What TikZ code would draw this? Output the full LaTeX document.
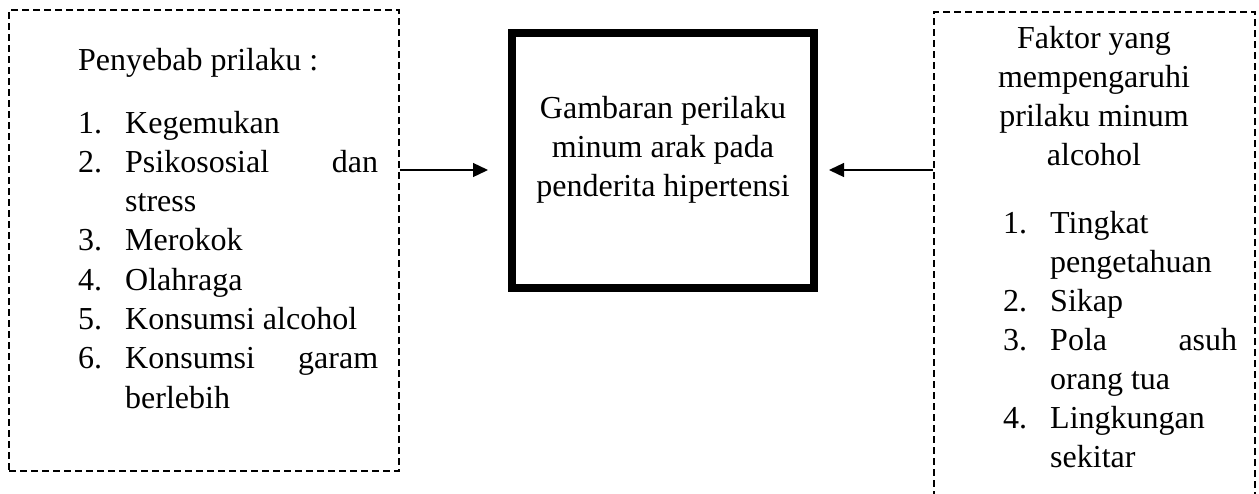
\documentclass[tikz,border=0pt]{standalone}
\usepackage{fontspec}
\setmainfont{Liberation Serif}
\usetikzlibrary{arrows.meta}
\tikzset{
  dashbox/.style={draw, line width=2pt, dash pattern=on 7pt off 4pt, inner sep=0pt},
  mainbox/.style={draw, line width=8pt, inner sep=0pt},
  txt/.style={anchor=base west, inner sep=0pt, font=\fontsize{32}{39}\selectfont},
  ctxt/.style={anchor=base, inner sep=0pt, font=\fontsize{32}{39}\selectfont},
  arr/.style={line width=1.3pt, -{Triangle[length=15pt,width=14pt]}}
}
\begin{document}
\begin{tikzpicture}[x=1pt,y=-1pt]
\useasboundingbox (0,0) rectangle (1259,493);
% boxes
\node[dashbox, minimum width=390pt, minimum height=461pt] (left) at (204,240.5) {};
\node[mainbox, minimum width=302pt, minimum height=255pt] (center) at (663,160.5) {};
\begin{scope}
\clip (0,0) rectangle (1259,493);
\node[dashbox, minimum width=321pt, minimum height=540pt] (right) at (1094.5,282) {};
\end{scope}
% left text
\node[txt] (lh) at (78,70) {Penyebab prilaku :};
\node[txt] (ln1) at (78,133) {1.};
\node[txt] (lt1) at (125,133) {Kegemukan};
\node[txt] (ln2) at (78,172.3) {2.};
\node[txt] (lt2) at (125,172.3) {\makebox[253pt][s]{Psikososial\hfill dan}};
\node[txt] (lt2b) at (125,211.6) {stress};
\node[txt] (ln3) at (78,250.9) {3.};
\node[txt] (lt3) at (125,250.9) {Merokok};
\node[txt] (ln4) at (78,290.2) {4.};
\node[txt] (lt4) at (125,290.2) {Olahraga};
\node[txt] (ln5) at (78,329.5) {5.};
\node[txt] (lt5) at (125,329.5) {Konsumsi alcohol};
\node[txt] (ln6) at (78,368.8) {6.};
\node[txt] (lt6) at (125,368.8) {\makebox[253pt][s]{Konsumsi\hfill garam}};
\node[txt] (lt6b) at (125,408.1) {berlebih};
% center text
\node[ctxt] (c1) at (663,118) {Gambaran perilaku};
\node[ctxt] (c2) at (663,157) {minum arak pada};
\node[ctxt] (c3) at (663,196) {penderita hipertensi};
% right text
\node[ctxt] (r1) at (1094,48) {Faktor yang};
\node[ctxt] (r2) at (1094,87) {mempengaruhi};
\node[ctxt] (r3) at (1094,126) {prilaku minum};
\node[ctxt] (r4) at (1094,165) {alcohol};
\node[txt] (rn1) at (1003,233) {1.};
\node[txt] (rt1) at (1050,233) {Tingkat};
\node[txt] (rt1b) at (1050,272) {pengetahuan};
\node[txt] (rn2) at (1003,311) {2.};
\node[txt] (rt2) at (1050,311) {Sikap};
\node[txt] (rn3) at (1003,350) {3.};
\node[txt] (rt3) at (1050,350) {\makebox[187pt][s]{Pola\hfill asuh}};
\node[txt] (rt3b) at (1050,389) {orang tua};
\node[txt] (rn4) at (1003,428) {4.};
\node[txt] (rt4) at (1050,428) {Lingkungan};
\node[txt] (rt4b) at (1050,467) {sekitar};
% arrows
\coordinate (ay) at (0,170);
\draw[arr] (left.east |- ay) -- ([xshift=-20pt]center.west |- ay);
\draw[arr] (right.west |- ay) -- ([xshift=11pt]center.east |- ay);
\end{tikzpicture}
\end{document}
